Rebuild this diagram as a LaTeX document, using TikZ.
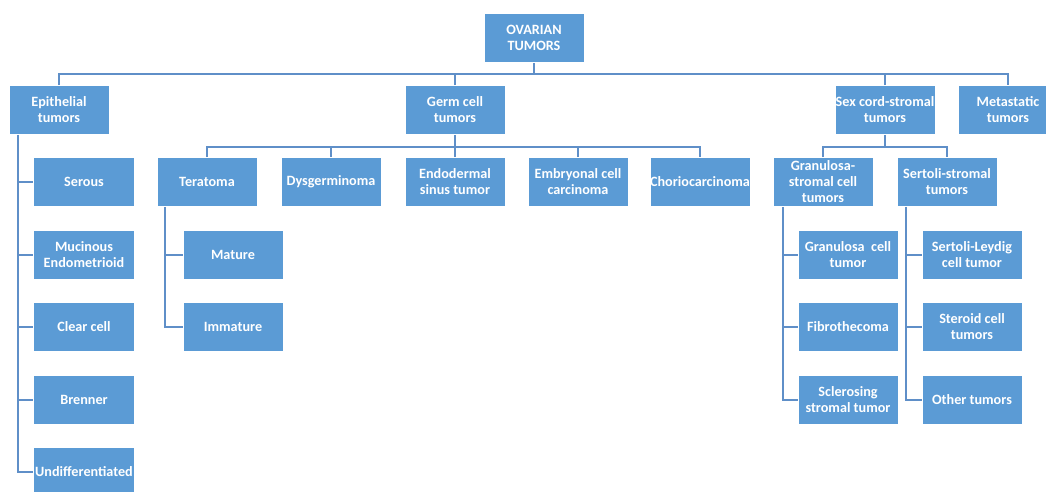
\documentclass[tikz,border=0pt]{standalone}
\usepackage{fontspec}
\setmainfont{Carlito}
\definecolor{boxfill}{HTML}{5B9BD5}
\definecolor{linkcol}{HTML}{5F8FC8}
\begin{document}
\begin{tikzpicture}[x=1pt,y=-1pt,
  tbox/.style={rectangle, fill=boxfill, draw=white, line width=0.8pt,
    minimum width=100pt, minimum height=49pt, inner sep=0pt,
    align=center, text=white,
    font=\fontsize{14.2}{16}\selectfont\bfseries},
  link/.style={draw=linkcol, line width=1.6pt}]
\useasboundingbox (0,0) rectangle (1046,491);
\clip (0,0) rectangle (1046,491);

% top level
\node[tbox] (root) at (534,38) {OVARIAN\\TUMORS};
\node[tbox] (epi) at (59,110) {Epithelial\\tumors};
\node[tbox] (germ) at (455,110) {Germ cell\\tumors};
\node[tbox] (sex) at (885,110) {Sex cord-stromal\\tumors};
\node[tbox] (meta) at (1008,110) {Metastatic\\tumors};

% epithelial branch
\node[tbox, minimum width=101pt] (serous) at (84,182) {Serous};
\node[tbox, minimum width=101pt] (muc) at (84,255) {Mucinous\\Endometrioid};
\node[tbox, minimum width=101pt] (clear) at (84,327) {Clear cell};
\node[tbox, minimum width=101pt] (bren) at (84,400) {Brenner};
\node[tbox, minimum width=101pt] (undiff) at (84,472) {Undifferentiated};

% germ cell branch
\node[tbox] (tera) at (207,182) {Teratoma};
\node[tbox] (dysg) at (331,182) {Dysgerminoma};
\node[tbox] (endo) at (455,182) {Endodermal\\sinus tumor};
\node[tbox] (embr) at (578,182) {Embryonal cell\\carcinoma};
\node[tbox] (chor) at (700,182) {Choriocarcinoma};
\node[tbox] (mat) at (233,255) {Mature};
\node[tbox] (immat) at (233,327) {Immature};

% sex cord-stromal branch
\node[tbox] (gran) at (823,182) {Granulosa-\\stromal cell\\tumors};
\node[tbox] (sert) at (947,182) {Sertoli-stromal\\tumors};
\node[tbox] (gct) at (848,255) {Granulosa\ \ cell\\tumor};
\node[tbox] (fib) at (848,327) {Fibrothecoma};
\node[tbox] (scl) at (848,400) {Sclerosing\\stromal tumor};
\node[tbox] (sl) at (972,255) {Sertoli-Leydig\\cell tumor};
\node[tbox] (ster) at (972,327) {Steroid cell\\tumors};
\node[tbox] (oth) at (972,400) {Other tumors};

% connectors: root to first level
\coordinate (bus0) at (0,74);
\path[link] (root.south) -- (root.south |- bus0);
\path[link] (epi.north) |- (meta.north |- bus0) -- (meta.north);
\foreach \n in {germ,sex}
  \path[link] (\n.north) -- (\n.north |- bus0);

% germ cell children
\coordinate (bus1) at (0,147);
\path[link] (germ.south) -- (germ.south |- bus1);
\path[link] (tera.north) |- (chor.north |- bus1) -- (chor.north);
\foreach \n in {dysg,endo,embr}
  \path[link] (\n.north) -- (\n.north |- bus1);

% sex cord-stromal children
\path[link] (sex.south) -- (sex.south |- bus1);
\path[link] (gran.north) |- (sert.north |- bus1) -- (sert.north);

% vertical rails with side branches
\coordinate (railE) at (18,0);
\path[link] (railE |- epi.south) |- (undiff.west);
\foreach \n in {serous,muc,clear,bren}
  \path[link] (railE |- \n.west) -- (\n.west);

\coordinate (railT) at (165,0);
\path[link] (railT |- tera.south) |- (immat.west);
\path[link] (railT |- mat.west) -- (mat.west);

\coordinate (railG) at (783,0);
\path[link] (railG |- gran.south) |- (scl.west);
\foreach \n in {gct,fib}
  \path[link] (railG |- \n.west) -- (\n.west);

\coordinate (railS) at (906,0);
\path[link] (railS |- sert.south) |- (oth.west);
\foreach \n in {sl,ster}
  \path[link] (railS |- \n.west) -- (\n.west);
\end{tikzpicture}
\end{document}
